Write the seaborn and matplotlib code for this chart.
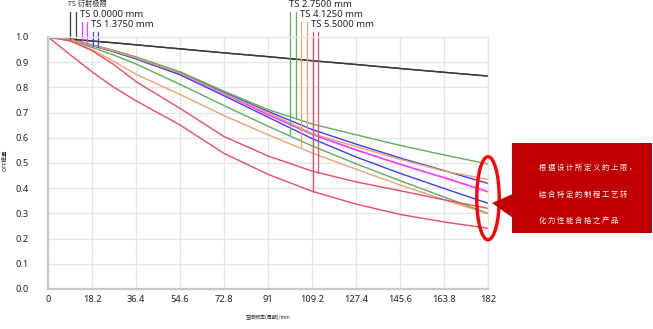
import numpy as np
import pandas as pd
import seaborn as sns
import matplotlib
matplotlib.use("Agg")
import matplotlib.pyplot as plt
from matplotlib.patches import Ellipse, Rectangle, Polygon

# ---------------- data ----------------
freq = [0, 9.1, 18.2, 27.3, 36.4, 54.6, 72.8, 91, 109.2, 127.4, 145.6, 163.8, 182]
xticks = [0, 18.2, 36.4, 54.6, 72.8, 91, 109.2, 127.4, 145.6, 163.8, 182]
xticklabels = ["0", "18.2", "36.4", "54.6", "72.8", "91", "109.2", "127.4", "145.6", "163.8", "182"]
yticks = [0.0, 0.1, 0.2, 0.3, 0.4, 0.5, 0.6, 0.7, 0.8, 0.9, 1.0]

diff_T = [1.0, 0.992, 0.984, 0.977, 0.969, 0.953, 0.937, 0.922, 0.906, 0.891, 0.875, 0.860, 0.845]
diff_S = [1.0, 0.992, 0.984, 0.977, 0.969, 0.953, 0.937, 0.922, 0.906, 0.891, 0.875, 0.860, 0.845]
f0_T = [1.0, 0.990, 0.967, 0.943, 0.916, 0.855, 0.775, 0.692, 0.614, 0.552, 0.495, 0.442, 0.386]
f0_S = [1.0, 0.990, 0.967, 0.943, 0.916, 0.855, 0.775, 0.692, 0.614, 0.552, 0.495, 0.442, 0.386]
f1_T = [1.0, 0.990, 0.966, 0.941, 0.913, 0.850, 0.767, 0.682, 0.597, 0.524, 0.459, 0.399, 0.340]
f1_S = [1.0, 0.990, 0.968, 0.945, 0.918, 0.858, 0.780, 0.705, 0.633, 0.575, 0.520, 0.470, 0.419]
f2_T = [1.0, 0.986, 0.959, 0.928, 0.893, 0.812, 0.728, 0.646, 0.568, 0.497, 0.430, 0.365, 0.300]
f2_S = [1.0, 0.990, 0.969, 0.947, 0.921, 0.862, 0.785, 0.712, 0.655, 0.612, 0.570, 0.532, 0.496]
f3_T = [1.0, 0.985, 0.950, 0.903, 0.852, 0.772, 0.688, 0.612, 0.540, 0.475, 0.413, 0.355, 0.298]
f3_S = [1.0, 0.990, 0.967, 0.944, 0.917, 0.856, 0.776, 0.700, 0.617, 0.565, 0.515, 0.468, 0.435]
f4_T = [1.0, 0.930, 0.862, 0.800, 0.747, 0.651, 0.538, 0.455, 0.388, 0.337, 0.296, 0.266, 0.241]
f4_S = [1.0, 0.985, 0.946, 0.890, 0.823, 0.717, 0.605, 0.528, 0.468, 0.425, 0.390, 0.354, 0.320]

curves = {
    "diff_T": diff_T, "diff_S": diff_S,
    "f0_T": f0_T, "f0_S": f0_S,
    "f1_T": f1_T, "f1_S": f1_S,
    "f2_T": f2_T, "f2_S": f2_S,
    "f3_T": f3_T, "f3_S": f3_S,
    "f4_T": f4_T, "f4_S": f4_S,
}
legend_labels = ["TS 衍射极限", "TS 0.0000 mm", "TS 1.3750 mm",
                 "TS 2.7500 mm", "TS 4.1250 mm", "TS 5.5000 mm"]
callout_lines = ["根据设计所定义的上限，", "结合特定的制程工艺转", "化为性能合格之产品"]
xlabel = "空间频率(周期)/mm"
ylabel = "OTF模量"

# ---------------- style ----------------
black = "#3a3a3a"
magenta = "#ff3cff"
blue = "#3c3cff"
green = "#5cb05c"
orange = "#e9a46c"
red = "#ee4a68"
palette = {"diff_T": black, "diff_S": black, "f0_T": magenta, "f0_S": magenta,
           "f1_T": blue, "f1_S": blue, "f2_T": green, "f2_S": green,
           "f3_T": orange, "f3_S": orange, "f4_T": red, "f4_S": red}

sns.set_theme(style="white")
plt.rcParams["font.family"] = ["Noto Sans", "Noto Sans CJK SC", "DejaVu Sans"]

df = pd.concat([pd.DataFrame({"freq": freq, "mtf": v, "curve": k}) for k, v in curves.items()],
               ignore_index=True)

W, H = 653, 329
fig = plt.figure(figsize=(W / 100, H / 100), dpi=100)
ax = fig.add_axes([48 / W, 1 - 289 / H, 440 / W, 252 / H])

sns.lineplot(data=df, x="freq", y="mtf", hue="curve", palette=palette,
             estimator=None, sort=False, legend=False, linewidth=1.0, ax=ax)

ax.set_xlim(0, 182)
ax.set_ylim(0, 1.0)
ax.set_xticks(xticks)
ax.set_xticklabels(xticklabels)
ax.set_yticks(yticks)
ax.set_yticklabels([f"{t:.1f}" for t in yticks])
ax.grid(True, color="#e6e6e6", linewidth=1.0)
ax.set_axisbelow(True)
ax.tick_params(axis="both", direction="in", length=4, width=0.8, color="#b0b0b0",
               labelsize=6.7, labelcolor="#222222")
ax.tick_params(axis="y", pad=14)
ax.tick_params(axis="x", pad=4)
for s in ["left", "bottom"]:
    ax.spines[s].set_color("#c8c8c8")
    ax.spines[s].set_linewidth(1.6)
for s in ["top", "right"]:
    ax.spines[s].set_color("#e6e6e6")
    ax.spines[s].set_linewidth(1.0)

ax.set_xlabel(xlabel, fontsize=3.6, family=["Noto Sans CJK SC", "DejaVu Sans"])
ax.set_ylabel(ylabel, fontsize=4.0, family=["Noto Sans CJK SC", "DejaVu Sans"])
ax.xaxis.set_label_coords(0.5, -0.1)
ax.yaxis.set_label_coords(-0.091, 0.512)

# legend indicator lines: (x, top value, curve name)
marks = [
    (9.1, 1.098, "diff_T"), (11.6, 1.098, "diff_S"),
    (14.1, 1.060, "f0_T"), (16.1, 1.060, "f0_S"),
    (18.6, 1.020, "f1_T"), (20.7, 1.020, "f1_S"),
    (100.1, 1.098, "f2_T"), (102.6, 1.098, "f2_S"),
    (104.6, 1.060, "f3_T"), (107.1, 1.060, "f3_S"),
    (109.6, 1.020, "f4_T"), (111.7, 1.020, "f4_S"),
]
for xm, top, name in marks:
    yb = np.interp(xm, freq, curves[name])
    ax.plot([xm, xm], [yb, top], color=palette[name], lw=0.9, clip_on=False)

label_pos = [(8.3, 1.128, 5.2), (13.2, 1.088, 6.8), (17.8, 1.048, 6.8),
             (99.7, 1.128, 6.8), (104.2, 1.088, 6.8), (108.8, 1.048, 6.8)]
for (lx, ly, fs), txt in zip(label_pos, legend_labels):
    ax.text(lx, ly, txt, fontsize=fs, color="#222222", ha="left", va="center", clip_on=False)

# red ellipse highlight
ell = Ellipse((182, 0.36), width=9.3, height=0.33, transform=ax.transData,
              fill=False, edgecolor="#ff0000", linewidth=2.4, clip_on=False, zorder=5)
ax.add_patch(ell)

# callout box in figure pixel coordinates
def fx(px):
    return px / W

def fy(py):
    return 1 - py / H

box = Rectangle((fx(512), fy(233)), fx(652) - fx(512), fy(143) - fy(233),
                transform=fig.transFigure, facecolor="#c00000", edgecolor="none")
fig.patches.append(box)
tri = Polygon([(fx(492), fy(203)), (fx(513), fy(194)), (fx(513), fy(218))],
              closed=True, transform=fig.transFigure, facecolor="#c00000", edgecolor="none")
fig.patches.append(tri)
for i, line in enumerate(callout_lines):
    fig.text(fx(539), fy(168 + 26.5 * i), " ".join(line), fontsize=5.3, color="white",
             ha="left", va="center", family=["Noto Sans CJK SC", "DejaVu Sans"])

fig.savefig("out.png", dpi=100)
